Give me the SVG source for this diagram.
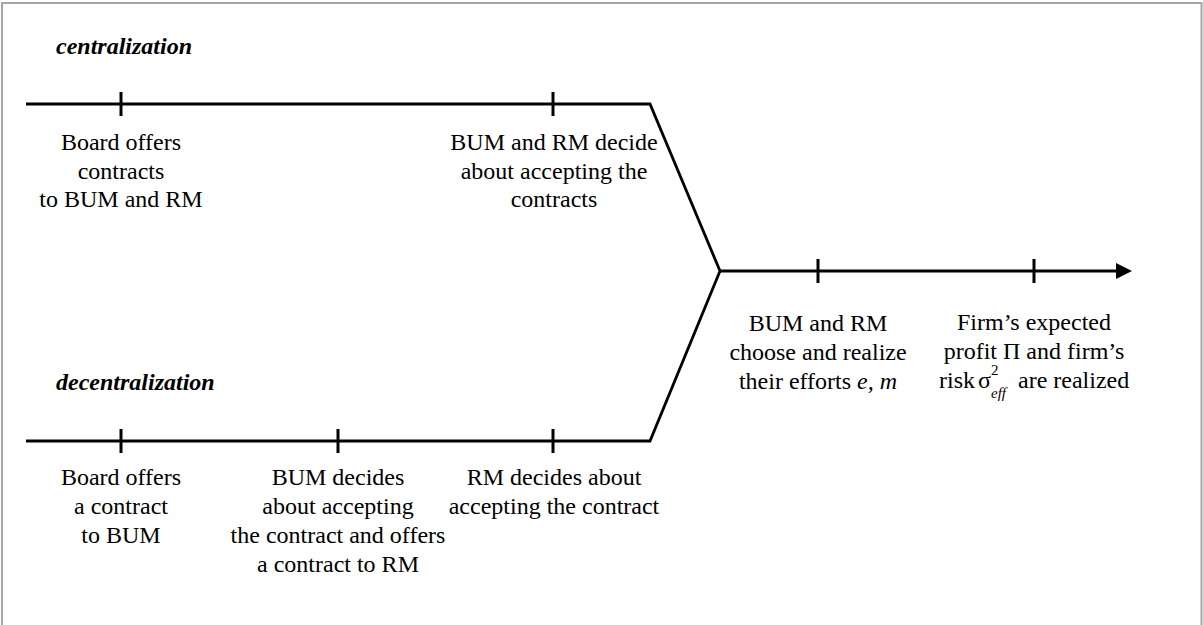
<svg xmlns="http://www.w3.org/2000/svg" width="1203" height="625" viewBox="0 0 1203 625">
  <defs>
    <style>
      text { font-family: "Liberation Serif", "Times New Roman", serif; font-size: 24px; fill: #000; }
      .c { text-anchor: middle; }
      .h { font-weight: bold; font-style: italic; }
      .i { font-style: italic; }
      .s { font-size: 15px; }
      .line { fill: none; stroke: #000; stroke-width: 2.8; stroke-linejoin: miter; }
      .tick { stroke: #000; stroke-width: 3; }
      .frame { fill: none; stroke: #a6a6a6; stroke-width: 2; }
    </style>
    <marker id="arrow" markerWidth="16" markerHeight="16" refX="0" refY="8" orient="auto" markerUnits="userSpaceOnUse">
      <path d="M0,0 L16,8 L0,16 Z" fill="#000"/>
    </marker>
  </defs>

  <rect width="1203" height="625" fill="#fff"/>
  <path class="frame" d="M2,625 V3 H1201.5 V625"/>

  <g id="connectors">
    <path class="line" d="M26,104 H650 L720,271 L650,441 H26"/>
    <path class="line" d="M720,271 H1116" marker-end="url(#arrow)"/>
    <line class="tick" x1="121" y1="92" x2="121" y2="116"/>
    <line class="tick" x1="553" y1="92" x2="553" y2="116"/>
    <line class="tick" x1="121" y1="429" x2="121" y2="453"/>
    <line class="tick" x1="338" y1="429" x2="338" y2="453"/>
    <line class="tick" x1="553" y1="429" x2="553" y2="453"/>
    <line class="tick" x1="818" y1="259" x2="818" y2="283"/>
    <line class="tick" x1="1034" y1="259" x2="1034" y2="283"/>
  </g>

  <g id="title-centralization">
    <text class="h" x="56" y="54">centralization</text>
  </g>
  <g id="title-decentralization">
    <text class="h" x="56" y="390">decentralization</text>
  </g>

  <g id="c-board">
    <text class="c" x="121" y="150">Board offers</text>
    <text class="c" x="121" y="178.5">contracts</text>
    <text class="c" x="121" y="207">to BUM and RM</text>
  </g>
  <g id="c-accept">
    <text class="c" x="554" y="150">BUM and RM decide</text>
    <text class="c" x="554" y="178.5">about accepting the</text>
    <text class="c" x="554" y="207">contracts</text>
  </g>

  <g id="d-board">
    <text class="c" x="121" y="485">Board offers</text>
    <text class="c" x="121" y="514">a contract</text>
    <text class="c" x="121" y="543">to BUM</text>
  </g>
  <g id="d-bum">
    <text class="c" x="338" y="485">BUM decides</text>
    <text class="c" x="338" y="514">about accepting</text>
    <text class="c" x="338" y="543">the contract and offers</text>
    <text class="c" x="338" y="572">a contract to RM</text>
  </g>
  <g id="d-rm">
    <text class="c" x="554" y="485">RM decides about</text>
    <text class="c" x="554" y="514">accepting the contract</text>
  </g>

  <g id="efforts">
    <text class="c" x="818" y="331">BUM and RM</text>
    <text class="c" x="818" y="360">choose and realize</text>
    <text class="c" x="818" y="389">their efforts <tspan class="i">e, m</tspan></text>
  </g>
  <g id="realized">
    <text class="c" x="1034" y="330">Firm’s expected</text>
    <text class="c" x="1034" y="359">profit Π and firm’s</text>
    <text x="939" y="388">risk<tspan x="978">σ</tspan><tspan class="s" x="991" y="375">2</tspan><tspan class="s i" x="991" y="398">eff</tspan><tspan x="1018" y="388">are realized</tspan></text>
  </g>
</svg>
